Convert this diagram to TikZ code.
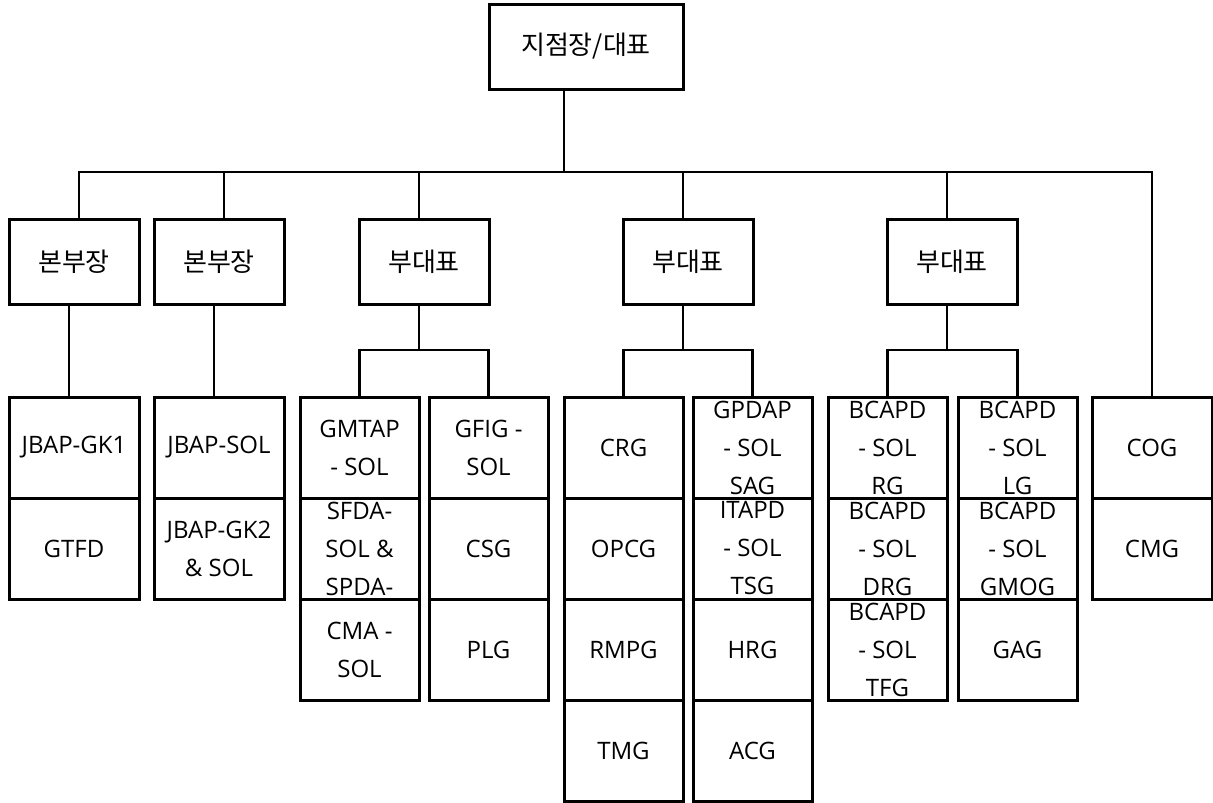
\documentclass[tikz,border=0pt]{standalone}
\usepackage{fontspec}
\setmainfont{Open Sans}
\newfontfamily\krfont{Noto Sans CJK KR}
\usepackage{tikz}
\usetikzlibrary{positioning,calc}

\begin{document}
\begin{tikzpicture}[
    x=1pt, y=-1pt,
    box/.style={draw, line width=3pt, outer sep=0pt, inner sep=0pt, align=center, font=\fontsize{24}{38}\selectfont},
    headbox/.style={box, minimum width=194pt, minimum height=85pt, font=\krfont\fontsize{26}{30}\selectfont},
    lead/.style={box, minimum width=130pt, minimum height=85pt, font=\krfont\fontsize{26}{30}\selectfont},
    cell/.style={box, minimum width=119pt, minimum height=101pt},
    wide/.style={cell, minimum width=130pt},
    link/.style={line width=2.6pt},
]
\useasboundingbox (0,0) rectangle (1213,803);

\node[headbox] (head) at (586,46.5) {지점장/대표};

\node[lead] (hq1) at (74,261.5) {본부장};
\node[lead] (hq2) at (219,261.5) {본부장};
\node[lead] (dep1) at (424,261.5) {부대표};
\node[lead] (dep2) at (688,261.5) {부대표};
\node[lead] (dep3) at (952,261.5) {부대표};

% bottom columns
\node[wide] (gk1) at (74,447.5) {JBAP-GK1};
\node[wide, below=0pt of gk1] (gtfd) {GTFD};

\node[wide] (jsol) at (219,447.5) {JBAP-SOL};
\node[wide, below=0pt of jsol] (jgk2) {JBAP-GK2\\\& SOL};

\node[cell] (gmtap) at (359.5,447.5) {GMTAP\\- SOL};
\node[cell, below=0pt of gmtap] (sfda) {SFDA-\\SOL \&\\SPDA-};
\node[cell, below=0pt of sfda] (cma) {CMA -\\SOL};

\node[cell] (gfig) at (488.5,447.5) {GFIG -\\SOL};
\node[cell, below=0pt of gfig] (csg) {CSG};
\node[cell, below=0pt of csg] (plg) {PLG};

\node[cell] (crg) at (623.5,447.5) {CRG};
\node[cell, below=0pt of crg] (opcg) {OPCG};
\node[cell, below=0pt of opcg] (rmpg) {RMPG};
\node[cell, below=0pt of rmpg] (tmg) {TMG};

\node[cell] (gpdap) at (752.5,447.5) {GPDAP\\- SOL\\SAG};
\node[cell, below=0pt of gpdap] (itapd) {ITAPD\\- SOL\\TSG};
\node[cell, below=0pt of itapd] (hrg) {HRG};
\node[cell, below=0pt of hrg] (acg) {ACG};

\node[cell] (rg) at (887.5,447.5) {BCAPD\\- SOL\\RG};
\node[cell, below=0pt of rg] (drg) {BCAPD\\- SOL\\DRG};
\node[cell, below=0pt of drg] (tfg) {BCAPD\\- SOL\\TFG};

\node[cell] (lg) at (1017.5,447.5) {BCAPD\\- SOL\\LG};
\node[cell, below=0pt of lg] (gmog) {BCAPD\\- SOL\\GMOG};
\node[cell, below=0pt of gmog] (gag) {GAG};

\node[cell, minimum width=120pt] (cog) at (1152,447.5) {COG};
\node[cell, minimum width=120pt, below=0pt of cog] (cmg) {CMG};

% connectors
\coordinate (bus) at (564,172);
\draw[link] ([xshift=-22pt]head.south) -- (bus);
\draw[link] ([xshift=5pt]hq1.north) |- (bus) -| (cog.north);
\draw[link] ([xshift=5pt]hq2.north) |- (bus);
\foreach \n in {dep1,dep2,dep3}
    \draw[link] ([xshift=-5pt]\n.north) |- (bus);

\draw[link] ([xshift=-5pt]hq1.south) -- ([xshift=-5pt]gk1.north);
\draw[link] ([xshift=-5pt]hq2.south) -- ([xshift=-5pt]jsol.north);

\foreach \d/\l/\r in {dep1/gmtap/gfig, dep2/crg/gpdap, dep3/rg/lg} {
    \coordinate (\d-bus) at ($(\d.south)+(-5,46)$);
    \draw[link] ([xshift=-5pt]\d.south) -- (\d-bus);
    \draw[link] (\l.north) |- (\d-bus) -| (\r.north);
}
\end{tikzpicture}
\end{document}
